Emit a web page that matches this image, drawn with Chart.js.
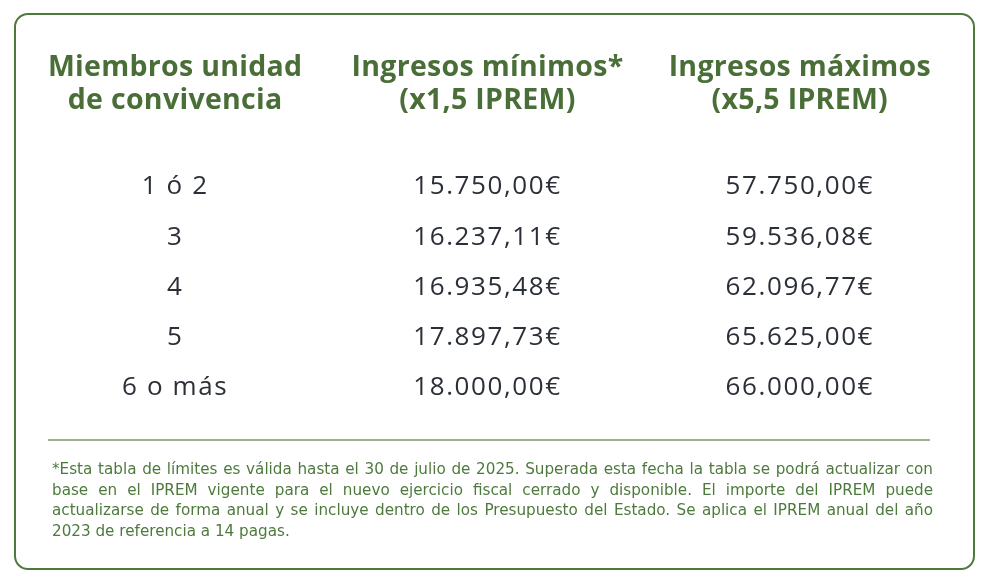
<!DOCTYPE html>
<html><head><meta charset="utf-8">
<script src="https://cdn.jsdelivr.net/npm/chart.js@4"></script>
<style>
html,body{margin:0;padding:0;background:#fff;}
#wrap{position:relative;width:987px;height:584px;}
#box{position:absolute;left:14px;top:13px;width:957px;height:553px;border:2px solid #4d7a3c;border-radius:14px;box-sizing:content-box;}
canvas{position:absolute;left:0;top:0;}
#note{position:absolute;left:52px;top:459px;width:881px;font-family:"DejaVu Sans",Verdana,sans-serif;font-size:15.2px;line-height:20.5px;color:#4d7a3c;text-align:justify;}
</style></head><body>
<div id="wrap"><div id="box"></div><canvas id="c" width="987" height="584"></canvas>
<div id="note">*Esta tabla de límites es válida hasta el 30 de julio de 2025. Superada esta fecha la tabla se podrá actualizar con base en el IPREM vigente para el nuevo ejercicio fiscal cerrado y disponible. El importe del IPREM puede actualizarse de forma anual y se incluye dentro de los Presupuesto del Estado. Se aplica el IPREM anual del año 2023 de referencia a 14 pagas.</div></div>
<script>
const headers=[["Miembros unidad","de convivencia"],["Ingresos mínimos*","(x1,5 IPREM)"],["Ingresos máximos","(x5,5 IPREM)"]];
const members=["1 ó 2","3","4","5","6 o más"];
const minIncome=["15.750,00€","16.237,11€","16.935,48€","17.897,73€","18.000,00€"];
const maxIncome=["57.750,00€","59.536,08€","62.096,77€","65.625,00€","66.000,00€"];
const columns=[members,minIncome,maxIncome];
const datasets=columns.map((col,ci)=>({data:col.map((t,ri)=>({x:ci,y:ri,t})),pointRadius:0}));
const tablePlugin={id:'tbl',afterDatasetsDraw(chart){
 const ctx=chart.ctx,xs=chart.scales.x,ys=chart.scales.y;
 ctx.save();ctx.textAlign='center';ctx.textBaseline='middle';
 ctx.fillStyle='#4a6e37';ctx.font='bold 28.5px "Open Sans", sans-serif';
 if(ctx.letterSpacing!==undefined)ctx.letterSpacing='0.3px';
 headers.forEach((h,ci)=>{const x=xs.getPixelForValue(ci);h.forEach((l,li)=>ctx.fillText(l,x,68+li*33));});
 ctx.fillStyle='#2b3038';ctx.font='26px "Open Sans", sans-serif';
 if(ctx.letterSpacing!==undefined)ctx.letterSpacing='1.6px';
 chart.data.datasets.forEach(ds=>ds.data.forEach(p=>ctx.fillText(p.t,xs.getPixelForValue(p.x),ys.getPixelForValue(p.y))));
 ctx.letterSpacing='0px';
 ctx.strokeStyle='#7a9a68';ctx.lineWidth=1.5;ctx.beginPath();ctx.moveTo(48,440);ctx.lineTo(930,440);ctx.stroke();
 ctx.restore();}};
new Chart(document.getElementById('c'),{type:'scatter',data:{datasets},
 options:{responsive:false,animation:false,events:[],
  layout:{padding:{left:19,right:31,top:187,bottom:196}},
  plugins:{legend:{display:false},tooltip:{enabled:false}},
  scales:{x:{type:'linear',min:-0.5,max:2.5,display:false},y:{type:'linear',min:0,max:4,reverse:true,display:false}}},
 plugins:[tablePlugin]});
</script></body></html>
